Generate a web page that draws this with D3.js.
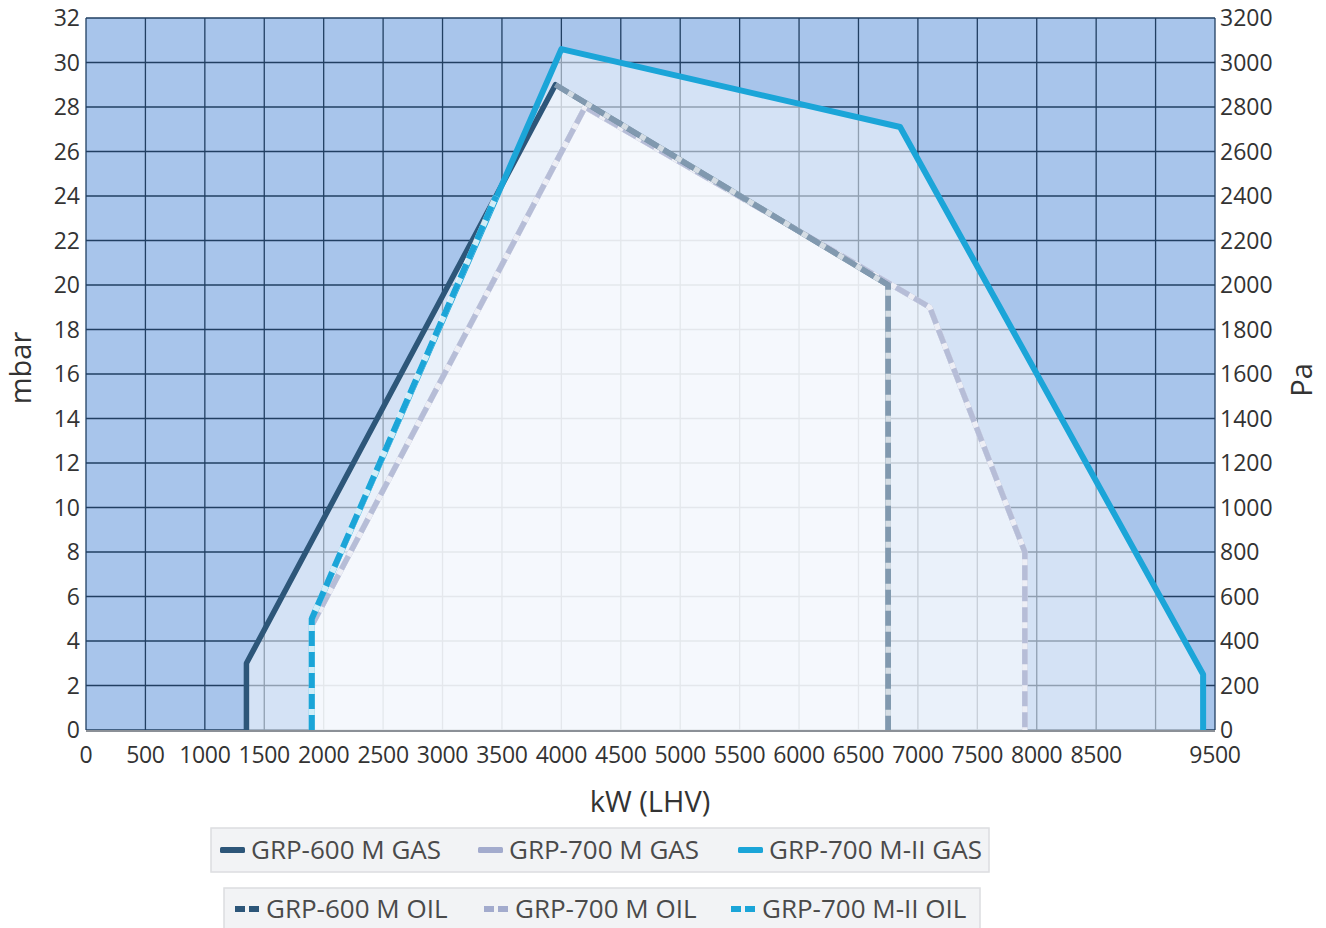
<!DOCTYPE html>
<html><head><meta charset="utf-8">
<script src="https://cdn.jsdelivr.net/npm/d3@7"></script>
<style>
html,body{margin:0;padding:0;background:#fff;}
svg{display:block;font-family:"Open Sans","Noto Sans",sans-serif;}
</style></head>
<body>
<svg id="c" width="1326" height="928"></svg>
<script>
// ---- data ----
const xTicks = [0,500,1000,1500,2000,2500,3000,3500,4000,4500,5000,5500,6000,6500,7000,7500,8000,8500,9000,9500];
const xTickLabels = ["0","500","1000","1500","2000","2500","3000","3500","4000","4500","5000","5500","6000","6500","7000","7500","8000","8500","","9500"];
const yTicks = [0,2,4,6,8,10,12,14,16,18,20,22,24,26,28,30,32];
const paTicks = [0,200,400,600,800,1000,1200,1400,1600,1800,2000,2200,2400,2600,2800,3000,3200];
const seriesNames = ["GRP-600 M GAS","GRP-700 M GAS","GRP-700 M-II GAS","GRP-600 M OIL","GRP-700 M OIL","GRP-700 M-II OIL"];
// [kW, mbar]
const gas600   = [[1350,0],[1350,3],[3950,29],[6750,20],[6750,0]];
const gas700   = [[1900,0],[1900,4.7],[4200,28],[6750,20.1],[7100,19],[7900,8],[7900,0]];
const gas700II = [[1900,0],[1900,5],[4000,30.6],[6850,27.1],[9400,2.5],[9400,0]];
const oil600   = [[3950,29],[6750,20],[6750,0]];
const oil700   = [[1900,0],[1900,4.7],[4200,28],[6750,20.1],[7100,19],[7900,8],[7900,0]];
const oil700II = [[1900,0],[1900,5],[3450,24]];

const colors = {navy:"#2d5679", lav:"#a3abcd", cyan:"#1ba5d8", lavOil:"#b6bdd7"};

// ---- layout ----
const svg = d3.select("#c");
const L=86, R=1215, T=18, B=730;
const x = d3.scaleLinear().domain([0,9500]).range([L,R]);
const y = d3.scaleLinear().domain([0,32]).range([B,T]);
const yPa = d3.scaleLinear().domain([0,3200]).range([B,T]);

svg.append("rect").attr("x",L).attr("y",T).attr("width",R-L).attr("height",B-T).attr("fill","#a8c5eb");

// grid
const grid = svg.append("g").attr("stroke","#213f62").attr("stroke-width",1.3);
grid.selectAll("line.v").data(xTicks).join("line").attr("class","v")
  .attr("x1",d=>x(d)).attr("x2",d=>x(d)).attr("y1",T).attr("y2",B);
grid.selectAll("line.h").data(yTicks).join("line").attr("class","h")
  .attr("x1",L).attr("x2",R).attr("y1",d=>y(d)).attr("y2",d=>y(d));

// areas
const area = d3.line().x(d=>x(d[0])).y(d=>y(d[1]));
[gas700II, gas600, gas700].forEach(s=>{
  svg.append("path").attr("d",area(s)+"Z").attr("fill","#fff").attr("fill-opacity",0.5);
});

// bottom axis line
svg.append("line").attr("x1",L).attr("x2",R).attr("y1",B+1).attr("y2",B+1).attr("stroke","#8b9097").attr("stroke-width",2);

const line = d3.line().x(d=>x(d[0])).y(d=>y(d[1]));
function solid(data,color,w){
  svg.append("path").attr("d",line(data)).attr("fill","none").attr("stroke",color)
    .attr("stroke-width",w).attr("stroke-linejoin","round");
}
function dashed(data,color,w,op){
  svg.append("path").attr("d",line(data)).attr("fill","none").attr("stroke","#fff").attr("stroke-opacity",0.8)
    .attr("stroke-width",w).attr("stroke-linejoin","round");
  svg.append("path").attr("d",line(data)).attr("fill","none").attr("stroke",color).attr("stroke-opacity",op)
    .attr("stroke-width",w).attr("stroke-linejoin","round").attr("stroke-dasharray","15,6");
}
solid(gas700, colors.lav, 5.5);
dashed(oil700, colors.lavOil, 5.5, 1);
solid(gas600, colors.navy, 5.5);
dashed(oil600, colors.navy, 5.5, 0.5);
solid(gas700II, colors.cyan, 6);
dashed(oil700II, colors.cyan, 6, 1);

// axes labels
const tf = 23;
svg.append("g").selectAll("text").data(yTicks).join("text")
  .attr("x",L-6).attr("y",d=>y(d)).attr("dy","0.36em").attr("text-anchor","end")
  .attr("font-size",tf).attr("fill","#333").text(d=>d);
svg.append("g").selectAll("text").data(paTicks).join("text")
  .attr("x",R+5).attr("y",d=>yPa(d)).attr("dy","0.36em").attr("text-anchor","start")
  .attr("font-size",tf).attr("fill","#333").text(d=>d);
svg.append("g").selectAll("text").data(xTicks).join("text")
  .attr("x",d=>x(d)).attr("y",B+33).attr("text-anchor","middle")
  .attr("font-size",tf).attr("fill","#333").attr("letter-spacing","-0.3")
  .text((d,i)=>xTickLabels[i]);

svg.append("text").attr("x",650).attr("y",812).attr("text-anchor","middle").attr("font-size",29).attr("fill","#333").text("kW (LHV)");
svg.append("text").attr("transform","translate(31,368) rotate(-90)").attr("text-anchor","middle").attr("font-size",29).attr("fill","#333").text("mbar");
svg.append("text").attr("transform","translate(1312,380) rotate(-90)").attr("text-anchor","middle").attr("font-size",29).attr("fill","#333").text("Pa");

// legend
function legendBox(bx,by,bw,bh){
  svg.append("rect").attr("x",bx).attr("y",by).attr("width",bw).attr("height",bh)
    .attr("fill","#f2f3f5").attr("stroke","#dcdde0").attr("stroke-width",1.5);
}
legendBox(211,828,778,44);
legendBox(224,888,756,44);
const legendItems = [
  {i:0, sx:220, ty:850, color:colors.navy, oil:false},
  {i:1, sx:478, ty:850, color:colors.lav, oil:false},
  {i:2, sx:738, ty:850, color:colors.cyan, oil:false},
  {i:3, sx:235, ty:909, color:colors.navy, oil:true},
  {i:4, sx:484, ty:909, color:colors.lav, oil:true},
  {i:5, sx:731, ty:909, color:colors.cyan, oil:true},
];
legendItems.forEach(it=>{
  if(!it.oil){
    svg.append("rect").attr("x",it.sx).attr("y",it.ty-3).attr("width",25).attr("height",6).attr("rx",1.5).attr("fill",it.color);
  } else {
    svg.append("rect").attr("x",it.sx).attr("y",it.ty-3).attr("width",10).attr("height",6).attr("fill",it.color);
    svg.append("rect").attr("x",it.sx+14).attr("y",it.ty-3).attr("width",10).attr("height",6).attr("fill",it.color);
  }
  svg.append("text").attr("x",it.sx+31).attr("y",it.ty).attr("dy","0.36em").attr("font-size",26).attr("fill","#4a4a4a").text(seriesNames[it.i]);
});
</script>
</body></html>
